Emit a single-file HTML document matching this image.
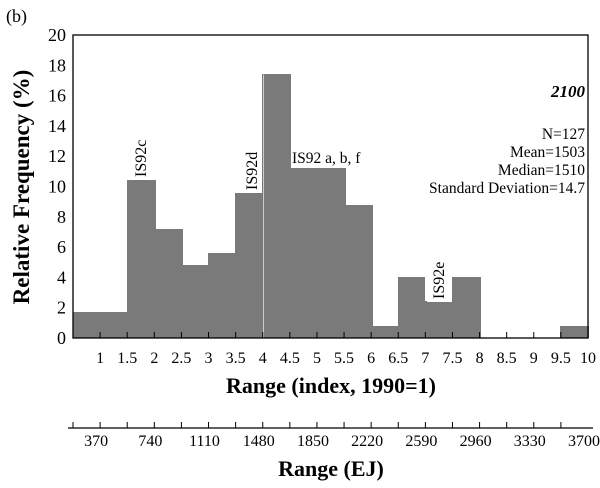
<!DOCTYPE html>
<html><head><meta charset="utf-8"><style>
body{margin:0;background:#fff}
svg, svg text{font-family:"Liberation Serif","Times New Roman",serif}
</style></head><body>
<svg width="600" height="483" viewBox="0 0 600 483" font-family="Liberation Serif, serif">
<text x="6" y="22" font-size="18">(b)</text>
<g id="bars" shape-rendering="crispEdges"></g>
<g id="axes"></g>
<text x="292" y="163" font-size="15.5">IS92 a, b, f</text>
<text transform="translate(146,177) rotate(-90)" font-size="16">IS92c</text>
<text transform="translate(257,190) rotate(-90)" font-size="16">IS92d</text>
<g>
<rect x="425" y="275" width="27" height="26" fill="#fff"/>
<text transform="translate(444,299) rotate(-90)" font-size="16">IS92e</text>
</g>
<text x="585" y="97" font-size="17" font-weight="bold" font-style="italic" text-anchor="end">2100</text>
<g font-size="15.5" text-anchor="end">
<text x="585" y="139">N=127</text>
<text x="585" y="157">Mean=1503</text>
<text x="585" y="175">Median=1510</text>
<text x="585" y="193">Standard Deviation=14.7</text>
</g>
<text transform="translate(29,187) rotate(-90)" font-size="23" font-weight="bold" text-anchor="middle">Relative Frequency (%)</text>
<text x="331" y="393" font-size="22" font-weight="bold" text-anchor="middle">Range (index, 1990=1)</text>
<text x="331" y="476" font-size="22" font-weight="bold" text-anchor="middle">Range (EJ)</text>
</svg>
<script>
const binStarts=[0.5,1,1.5,2,2.5,3,3.5,4,4.5,5,5.5,6,6.5,7,7.5,8,8.5,9,9.5];
const freqs=[1.7,1.7,10.4,7.2,4.8,5.6,9.6,17.4,11.2,11.2,8.8,0.8,4.0,2.4,4.0,0,0,0,0.8];
const xTicks=[1,1.5,2,2.5,3,3.5,4,4.5,5,5.5,6,6.5,7,7.5,8,8.5,9,9.5,10];
const yTicks=[0,2,4,6,8,10,12,14,16,18,20];
const ejTicks=[370,740,1110,1480,1850,2220,2590,2960,3330,3700];
const ns="http://www.w3.org/2000/svg";
const X0=73,X1=588,Y0=338,Y1=35;
const x=v=>X0+(v-0.5)/(9.5)*(X1-X0);
const y=v=>Y0-v/20*(Y0-Y1);
const xe=v=>x(v/370);
function mk(t,a,p){const e=document.createElementNS(ns,t);for(const k in a)e.setAttribute(k,a[k]);p.appendChild(e);return e;}
const gb=document.getElementById('bars'),ga=document.getElementById('axes');
binStarts.forEach((b,i)=>{if(freqs[i]<=0)return;
const x0=Math.floor(x(b)),x1=Math.ceil(x(b+0.5))+1;
const r=mk('rect',{x:x0,y:Math.round(y(freqs[i])),width:x1-x0,height:Y0-Math.round(y(freqs[i])),fill:'#7a7a7a'},gb);

});
mk('line',{x1:Math.round(x(4))+0.5,x2:Math.round(x(4))+0.5,y1:y(17.4),y2:Y0,stroke:'#ccc','stroke-width':1},gb);
const frame=mk('rect',{x:X0,y:Y1,width:X1-X0,height:Y0-Y1,fill:'none',stroke:'#000','stroke-width':1.3},ga);


yTicks.forEach(v=>{const t=mk('text',{x:66,y:y(v)+6,'font-size':18,'text-anchor':'end'},ga);t.textContent=v;

});
xTicks.forEach(v=>{mk('line',{x1:x(v),x2:x(v),y1:Y0,y2:Y0-6,stroke:'#000'},ga);
const t=mk('text',{x:x(v),y:363,'font-size':16,'text-anchor':'middle'},ga);t.textContent=v;

});
const ax=mk('line',{x1:68,x2:593,y1:428,y2:428,stroke:'#000','stroke-width':1.2},ga);


for(let k=1;k<=19;k++){const v=k*185;mk('line',{x1:xe(v),x2:xe(v),y1:428,y2:422,stroke:'#000'},ga);}
ejTicks.forEach(v=>{const t=mk('text',{x:xe(v)-4,y:446,'font-size':16,'text-anchor':'middle'},ga);t.textContent=v;

});
</script>
</body></html>
